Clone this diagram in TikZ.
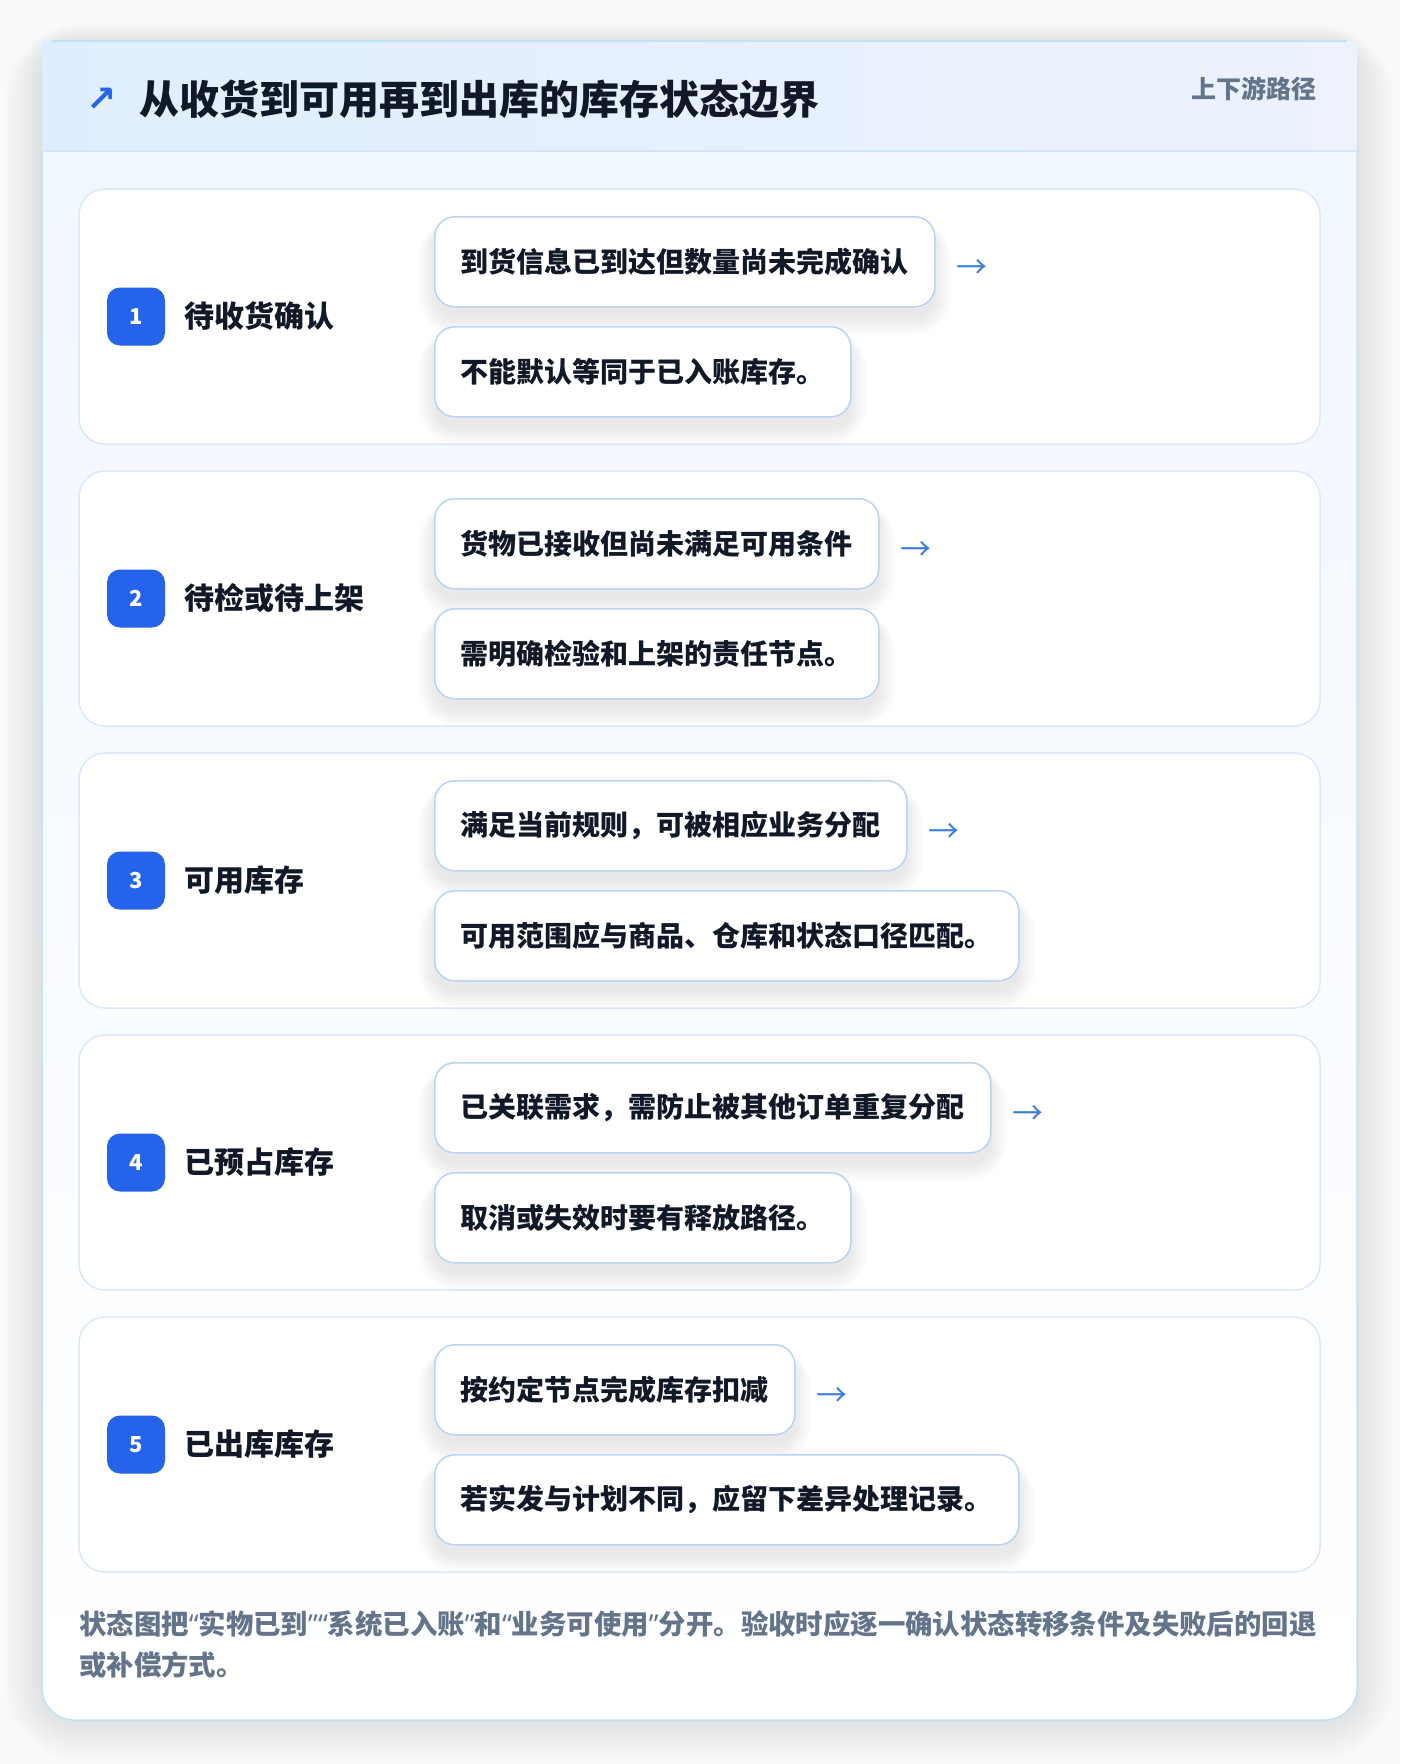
\documentclass[tikz,border=0pt]{standalone}
\usepackage{fontspec}
\setmainfont{Noto Sans CJK SC}
\newfontfamily\symfont{DejaVu Sans}
\newfontfamily\qfont{Noto Sans}
\newcommand\myoq{{\qfont “}}
\newcommand\mycq{{\qfont ”}}
\usetikzlibrary{positioning,calc}
\pgfdeclarelayer{cardlayer}
\pgfdeclarelayer{shadowlayer}
\pgfsetlayers{cardlayer,shadowlayer,main}
\definecolor{pagebg}{HTML}{F8F9FA}
\definecolor{cardline}{HTML}{BFE2F6}
\definecolor{headA}{HTML}{DFEEFE}
\definecolor{headB}{HTML}{EDF2FD}
\definecolor{headline}{HTML}{D5E5F7}
\definecolor{bodytop}{HTML}{F1F7FF}
\definecolor{stepline}{HTML}{DAE8F8}
\definecolor{subline}{HTML}{BAD3F2}
\definecolor{badgeblue}{HTML}{2563EB}
\definecolor{inkdark}{HTML}{111827}
\definecolor{inkgrey}{HTML}{64748B}
\definecolor{arrowblue}{HTML}{3B7DDD}
\definecolor{shadowc}{HTML}{1E3A5F}
\tikzset{
  stepcard/.style={draw=stepline, line width=1.5pt, fill=white, rounded corners=26pt},
  badge/.style={fill=badgeblue, rounded corners=13pt, minimum width=58pt, minimum height=58pt,
    inner sep=0pt, text=white, font=\fontsize{22}{22}\selectfont\bfseries},
  steplabel/.style={anchor=west, inner sep=0pt, text=inkdark, font=\fontsize{30}{30}\selectfont\bfseries},
  subbox/.style={draw=subline, line width=1.5pt, fill=white, rounded corners=20pt,
    minimum height=90pt, inner xsep=26pt, inner ysep=0pt, anchor=north west, text=inkdark,
    font=\fontsize{28}{28}\selectfont\bfseries},
  flowarrow/.style={anchor=west, inner sep=0pt, text=arrowblue, font=\fontsize{31}{31}\selectfont},
  softshadow/.style={fill=shadowc, fill opacity=0.007},
}
\newcommand\boxshadow[1]{%
  \begin{pgfonlayer}{shadowlayer}
  \foreach \k in {0,2,...,20}{
    \fill[softshadow, rounded corners=20pt+\k pt] ($(#1.north west)+(-\k*0.8,10-\k*0.3)$) rectangle ($(#1.south east)+(\k*0.8,10+\k*0.9)$);
  }
  \end{pgfonlayer}}
\begin{document}
\begin{tikzpicture}[x=1pt,y=-1pt]
\useasboundingbox (0,0) rectangle (1400,1764);
\begin{pgfonlayer}{cardlayer}
\fill[pagebg] (0,0) rectangle (1400,1764);
% outer card shadow
\foreach \k in {2,6,...,46}{
  \fill[shadowc, fill opacity=0.006, rounded corners=32pt+\k pt] (42-\k*0.8,42-\k*0.4) rectangle (1357+\k*0.8,1720+\k*0.9);
}
\fill[white, rounded corners=32pt] (42,42) rectangle (1357,1720);
\shade[top color=bodytop, bottom color=white, rounded corners=32pt] (42,42) rectangle (1357,1720);
\draw[cardline, line width=1.5pt, rounded corners=32pt] (42,42) rectangle (1357,1720);
% header
\shade[left color=headA, right color=headB] (42,41) rectangle (1357,151);
\draw[cardline, line width=1.5pt] (52,41) -- (1347,41);
\draw[headline, line width=1.5pt] (42,151) -- (1357,151);
\end{pgfonlayer}
\node[inner sep=0pt, text=badgeblue, font=\symfont\fontsize{36}{36}\selectfont\bfseries] (icon) at (102,100) {↗};
\node[anchor=west, inner sep=0pt, text=inkdark, font=\fontsize{40}{40}\selectfont\bfseries] (title) at (139,99) {从收货到可用再到出库的库存状态边界};
\node[anchor=east, inner sep=0pt, text=inkgrey, font=\fontsize{25}{25}\selectfont\bfseries] (tag) at (1317,89) {上下游路径};
% steps
\foreach \i/\lab/\ta/\tb [evaluate=\i as \top using {189+282*(\i-1)}] in {
  1/待收货确认/到货信息已到达但数量尚未完成确认/不能默认等同于已入账库存。,
  2/待检或待上架/货物已接收但尚未满足可用条件/需明确检验和上架的责任节点。,
  3/可用库存/满足当前规则，可被相应业务分配/可用范围应与商品、仓库和状态口径匹配。,
  4/已预占库存/已关联需求，需防止被其他订单重复分配/取消或失效时要有释放路径。,
  5/已出库库存/按约定节点完成库存扣减/若实发与计划不同，应留下差异处理记录。}{
  \begin{pgfonlayer}{cardlayer}
  \draw[stepcard] (79,\top) rectangle (1320,\top+255);
  \end{pgfonlayer}
  \node[badge] (b\i) at (136,\top+127.5) {\i};
  \node[steplabel] (l\i) at (184,\top+127.5) {\lab};
  \node[subbox] (sa\i) at (434,\top+27) {\ta};
  \node[subbox] (sb\i) at (434,\top+137) {\tb};
  \boxshadow{sa\i}
  \boxshadow{sb\i}
  \node[flowarrow, anchor=west] (ar\i) at ($(sa\i.east)+(21,7)$) {→};
}
% footer
\node[anchor=west, align=left, inner sep=0pt, text=inkgrey, font=\fontsize{27.4}{41}\selectfont\bfseries] (note) at (79,1645)
  {状态图把\myoq 实物已到\mycq\myoq 系统已入账\mycq 和\myoq 业务可使用\mycq 分开。验收时应逐一确认状态转移条件及失败后的回退\\或补偿方式。};
\end{tikzpicture}
\end{document}
